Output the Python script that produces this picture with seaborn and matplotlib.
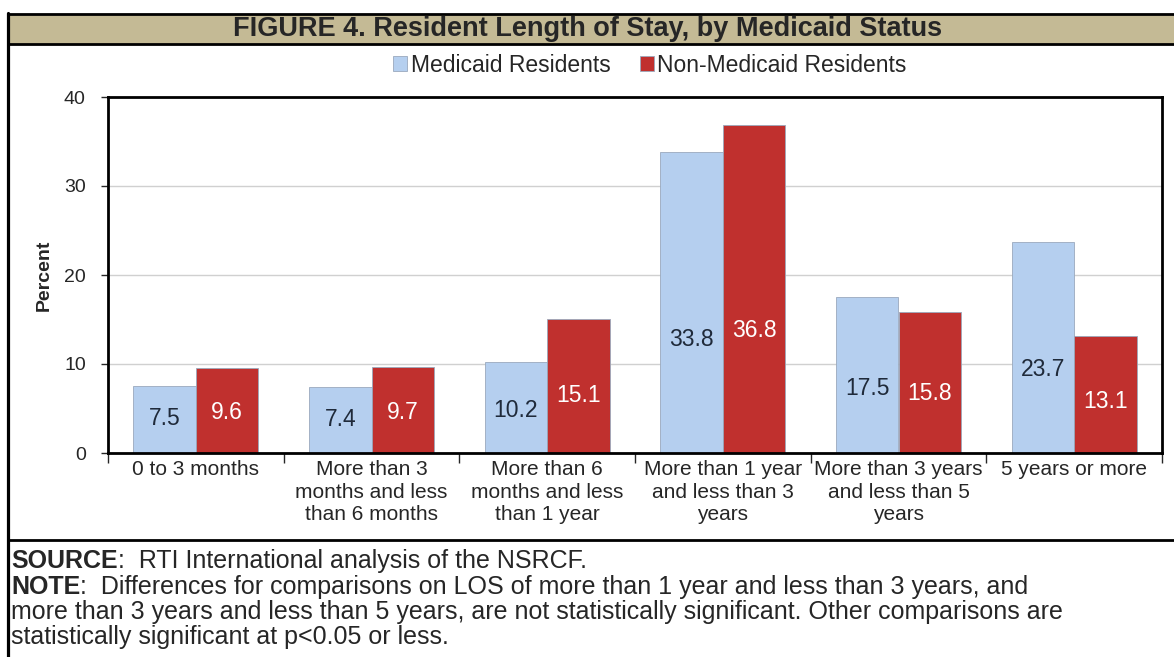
import matplotlib.pyplot as plt
import matplotlib.lines as mlines
import matplotlib.patches as mpatches
import pandas as pd
import seaborn as sns

# Data
categories = ['0 to 3 months',
              'More than 3\nmonths and less\nthan 6 months',
              'More than 6\nmonths and less\nthan 1 year',
              'More than 1 year\nand less than 3\nyears',
              'More than 3 years\nand less than 5\nyears',
              '5 years or more']
groups = ['Medicaid Residents', 'Non-Medicaid Residents']
medicaid = [7.5, 7.4, 10.2, 33.8, 17.5, 23.7]
non_medicaid = [9.6, 9.7, 15.1, 36.8, 15.8, 13.1]
y_ticks = [0, 10, 20, 30, 40]

df = pd.DataFrame({
  'category': categories * 2,
  'group': [groups[0]] * len(categories) + [groups[1]] * len(categories),
  'percent': medicaid + non_medicaid,
})

blue = '#b5cfef'
red = '#c0302e'

sns.set_style('white')
plt.rcParams['font.family'] = ['Liberation Sans', 'DejaVu Sans']

fig = plt.figure(figsize=(11.74, 6.57), dpi=100)
W, H = 1174, 657
ax = fig.add_axes([108 / W, 1 - 453 / H, (1162 - 108) / W, (453 - 97) / H])

sns.barplot(data=df, x='category', y='percent', hue='group',
            palette=[blue, red], width=0.71, saturation=1,
            edgecolor='#9aa9bd', linewidth=0.6, ax=ax)

ax.set_ylim(0, 40)
ax.set_xlim(-0.5, len(categories) - 0.5)
ax.set_yticks(y_ticks)
ax.yaxis.grid(True, color='#d0d0d0', linewidth=1)
ax.set_axisbelow(True)
for s in ax.spines.values():
  s.set_visible(True)
  s.set_color('black')
  s.set_linewidth(2)

ax.tick_params(axis='y', direction='out', length=5, width=1, labelsize=14,
               left=True, pad=11)
ax.tick_params(axis='x', which='major', length=0, labelsize=15, pad=5)
ax.set_xticks([i + 0.5 for i in range(-1, len(categories))], minor=True)
ax.tick_params(axis='x', which='minor', direction='out', length=7, width=1,
               bottom=True)
for lbl in ax.get_xticklabels():
  lbl.set_linespacing(1.25)
ax.set_xlabel('')
ax.set_ylabel('Percent', fontsize=14, fontweight='bold', labelpad=8)

# Value labels
for cont, vals, col in zip(ax.containers, [medicaid, non_medicaid],
                           ['#1f2a3a', 'white']):
  for bar, v in zip(cont, vals):
    ax.text(bar.get_x() + bar.get_width() / 2, 0.34 * v + 1.3,
            f'{v:.1f}', ha='center', va='center', fontsize=16.5, color=col)

# Legend
handles, labels = ax.get_legend_handles_labels()
ax.get_legend().remove()
fig.legend(handles, labels, loc='center', bbox_to_anchor=(650 / W, 1 - 65 / H),
           ncol=2, frameon=False, fontsize=16.5, handlelength=0.6,
           handleheight=0.6, handletextpad=0.15, columnspacing=1.3)

# Frame and title band
fig.add_artist(mpatches.Rectangle((8 / W, 1 - 44 / H), 1, 30 / H,
                                  transform=fig.transFigure,
                                  facecolor='#c4ba95', edgecolor='none'))
for y in [14, 44, 540]:
  fig.add_artist(mlines.Line2D([8 / W, 1], [1 - y / H] * 2, color='black',
                               lw=2, transform=fig.transFigure))
fig.add_artist(mlines.Line2D([8 / W] * 2, [0, 1 - 13 / H], color='black',
                             lw=2.3, transform=fig.transFigure))
fig.text(588 / W, 1 - 29.5 / H,
         'FIGURE 4. Resident Length of Stay, by Medicaid Status',
         ha='center', va='center', fontsize=19.5, fontweight='bold')

# Footer
fs = 18
src = fig.text(11 / W, 1 - 561 / H, 'SOURCE', fontsize=fs, fontweight='bold',
               va='center')
ax.annotate(':  RTI International analysis of the NSRCF.', xy=(1, 0.5),
            xycoords=src, va='center', fontsize=fs)
note = fig.text(11 / W, 1 - 587 / H, 'NOTE', fontsize=fs, fontweight='bold',
                va='center')
ax.annotate(':  Differences for comparisons on LOS of more than 1 year and '
            'less than 3 years, and', xy=(1, 0.5), xycoords=note,
            va='center', fontsize=fs)
fig.text(11 / W, 1 - 612 / H,
         'more than 3 years and less than 5 years, are not statistically '
         'significant. Other comparisons are', fontsize=fs, va='center')
fig.text(11 / W, 1 - 637 / H,
         'statistically significant at p<0.05 or less.', fontsize=fs,
         va='center')

fig.savefig('out.png', dpi=100)
